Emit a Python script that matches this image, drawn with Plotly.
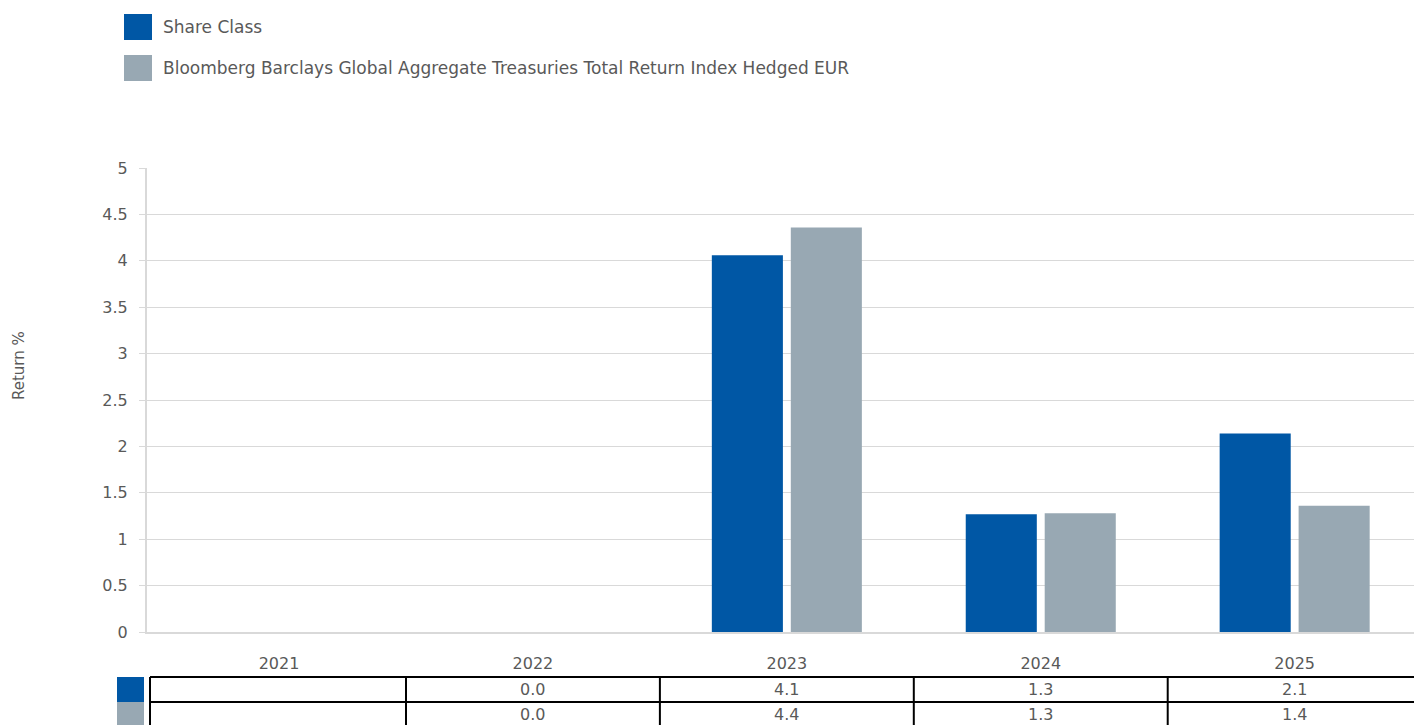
import plotly.graph_objects as go

years = ["2021", "2022", "2023", "2024", "2025"]
share_class = [None, 0.0, 4.06, 1.27, 2.14]
benchmark = [None, 0.0, 4.36, 1.28, 1.36]
series_names = [
    "Share Class",
    "Bloomberg Barclays Global Aggregate Treasuries Total Return Index Hedged EUR",
]

_BLUE = "#0057a5"
_GREY = "#98a8b3"
_TEXT = "#595959"
_GRID = "#d9d9d9"
_FONT = "DejaVu Sans, sans-serif"

W, H = 1414, 725
L, R, T, B = 147, 0, 168, 93
PW, PH = W - L - R, H - T - B


def px(x):
    return (x - L) / PW


def py(y):
    return (H - B - y) / PH


fig = go.Figure()
for name, vals, col in [(series_names[0], share_class, _BLUE),
                        (series_names[1], benchmark, _GREY)]:
    fig.add_trace(go.Bar(
        x=years, y=vals, name=name,
        marker=dict(color=col, line=dict(width=0)),
        hovertemplate="%{x}<br>%{y:.2f}%<extra></extra>",
    ))

shapes = []
annotations = []

# legend (drawn by hand for large keys)
for i, (name, col) in enumerate([(series_names[0], _BLUE), (series_names[1], _GREY)]):
    y0 = 14 + i * 41
    shapes.append(dict(type="rect", xref="paper", yref="paper",
                       x0=px(124), x1=px(152), y0=py(y0), y1=py(y0 + 26),
                       fillcolor=col, line=dict(width=0)))
    annotations.append(dict(xref="paper", yref="paper", x=px(161), y=py(y0 + 13),
                            xanchor="left", yanchor="middle", showarrow=False,
                            text=name, font=dict(size=17, color=_TEXT, family=_FONT)))

# y-axis title
annotations.append(dict(xref="paper", yref="paper", x=px(19), y=py(366),
                        xanchor="center", yanchor="middle", showarrow=False,
                        textangle=-90, text="Return %",
                        font=dict(size=15, color=_TEXT, family=_FONT)))

# data table below the chart
row_tops = [677, 702]
row_h = 25
for r, (vals, col) in enumerate([(share_class, _BLUE), (benchmark, _GREY)]):
    top = row_tops[r]
    shapes.append(dict(type="rect", xref="paper", yref="paper",
                       x0=px(117), x1=px(144), y0=py(top), y1=py(top + row_h),
                       fillcolor=col, line=dict(width=0)))
    for k, v in enumerate(vals):
        if v is None:
            continue
        annotations.append(dict(xref="x", yref="paper", x=k, y=py(top + row_h / 2),
                                xanchor="center", yanchor="middle", showarrow=False,
                                text=f"{v:.1f}", font=dict(size=16, color=_TEXT, family=_FONT)))

line = dict(color="black", width=2)
for yl in row_tops:
    shapes.append(dict(type="line", xref="paper", yref="paper",
                       x0=px(150), x1=1.0, y0=py(yl), y1=py(yl), line=line))
shapes.append(dict(type="line", xref="paper", yref="paper",
                   x0=px(150), x1=px(150), y0=py(677), y1=py(727), line=line))
for k in range(len(years) - 1):
    shapes.append(dict(type="line", xref="x", yref="paper",
                       x0=k + 0.5, x1=k + 0.5, y0=py(677), y1=py(727), line=line))

fig.update_layout(
    width=W, height=H,
    paper_bgcolor="white", plot_bgcolor="white",
    margin=dict(l=L, r=R, t=T, b=B),
    showlegend=False,
    barmode="group", bargap=0.378, bargroupgap=0.1,
    font=dict(family=_FONT, color=_TEXT, size=16),
    xaxis=dict(
        type="category", range=[-0.52, 4.47],
        showgrid=False, showline=True, linecolor=_GRID, linewidth=2,
        ticks="outside", ticklen=16, tickcolor="rgba(0,0,0,0)",
        tickfont=dict(size=16, color=_TEXT),
    ),
    yaxis=dict(
        range=[0, 5], dtick=0.5,
        showgrid=True, gridcolor=_GRID, gridwidth=1,
        showline=True, linecolor=_GRID, linewidth=2,
        zeroline=False,
        ticks="outside", ticklen=6, tickcolor=_GRID,
        ticklabelstandoff=8,
        tickfont=dict(size=16, color=_TEXT),
    ),
    shapes=shapes,
    annotations=annotations,
)

fig.write_html("out.html", config={"displayModeBar": False},
               post_script="document.body.style.margin='0';")
